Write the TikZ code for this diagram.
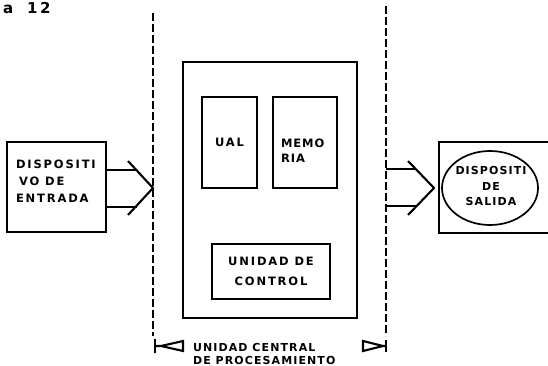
\documentclass[tikz,border=0pt]{standalone}
\usepackage{fontspec}
\newfontfamily\lettering[LetterSpace=16]{DejaVu Sans Bold}
\usetikzlibrary{shapes.geometric}

\begin{document}
\begin{tikzpicture}[x=1pt, y=-1pt, line width=2.1pt,
  box/.style={draw, inner sep=0pt},
  caps/.style={font=\lettering\fontsize{11.5}{17}\selectfont, inner sep=0pt},
  boundary/.style={dash pattern=on 8pt off 3pt}]
  \clip (0,0) rectangle (548,366);
  \node[anchor=west, inner sep=0pt, font=\lettering\fontsize{15}{15}\selectfont] (fig) at (2,8) {a\hspace{14pt}12};

  % input device, processing unit, output device
  \node[box, minimum width=99pt, minimum height=90pt] (entrada) at (56.5,187) {};
  \node[caps, anchor=north west, align=left] (entradatxt) at (15,158.5) {DISPOSITI\\\hspace*{3pt}VO DE\\ENTRADA};

  \node[box, minimum width=174pt, minimum height=256pt] (cpu) at (270,190) {};
  \node[box, caps, minimum width=55pt, minimum height=91pt] (ual) at (229.5,142.5) {UAL};
  \node[box, minimum width=64pt, minimum height=91pt] (memoria) at (305,142.5) {};
  \node[caps, anchor=north west, align=left, font=\lettering\fontsize{11.5}{15}\selectfont\addfontfeature{LetterSpace=8}] (memoriatxt) at (280,137.5) {MEMO\\RIA};
  \node[box, caps, align=center, minimum width=118pt, minimum height=55pt, font=\lettering\fontsize{11.5}{20}\selectfont] (control) at (271,271.5) {UNIDAD DE\\CONTROL};

  \node[box, minimum width=125pt, minimum height=91pt] (salidabox) at (501.5,187.5) {};
  \node[draw, ellipse, line width=1.7pt, minimum width=96pt, minimum height=74pt] (salida) at (490,188) {};
  \node[caps, align=center, font=\lettering\fontsize{11}{15.5}\selectfont\addfontfeature{LetterSpace=10}] (salidatxt) at (491,186) {DISPOSITI\\DE\\SALIDA};

  % limits of the central unit
  \coordinate (ltop) at (153,13);
  \coordinate (lbot) at (153,336);
  \coordinate (rtop) at (386,6);
  \coordinate (rbot) at (386,336);
  \draw[boundary] (ltop) -- (lbot);
  \draw[boundary] (rtop) -- (rbot);

  % data in and data out
  \coordinate (intip) at (153,188);
  \draw (entrada.east |- 0,170) -- ++(30,0);
  \draw (entrada.east |- 0,207) -- ++(30,0);
  \draw (intip) ++(-25,-27) -- (intip) -- ++(-25,27);
  \coordinate (outtip) at (434,188);
  \draw (rtop |- 0,169) -- ++(30,0);
  \draw (rtop |- 0,206) -- ++(30,0);
  \draw (outtip) ++(-26,-27) -- (outtip) -- ++(-26,27);

  % span of the central unit
  \node[caps, anchor=north west, align=left, font=\lettering\fontsize{11}{13}\selectfont\addfontfeature{LetterSpace=10}] (cpulabel) at (192,342) {UNIDAD CENTRAL\\DE PROCESAMIENTO};
  \coordinate (lbar) at (155,346);
  \coordinate (rbar) at (386,346);
  \draw ([yshift=7pt]lbar) -- ([yshift=-7pt]lbar);
  \draw (lbar) -- ++(6,0) -- ++(22,-5) -- ++(0,10) -- ++(-22,-5);
  \draw ([yshift=6pt]rbar) -- ([yshift=-6pt]rbar);
  \draw (rbar) -- ++(-3,0) -- ++(-20,-5) -- ++(0,10) -- ++(20,-5);
\end{tikzpicture}
\end{document}
